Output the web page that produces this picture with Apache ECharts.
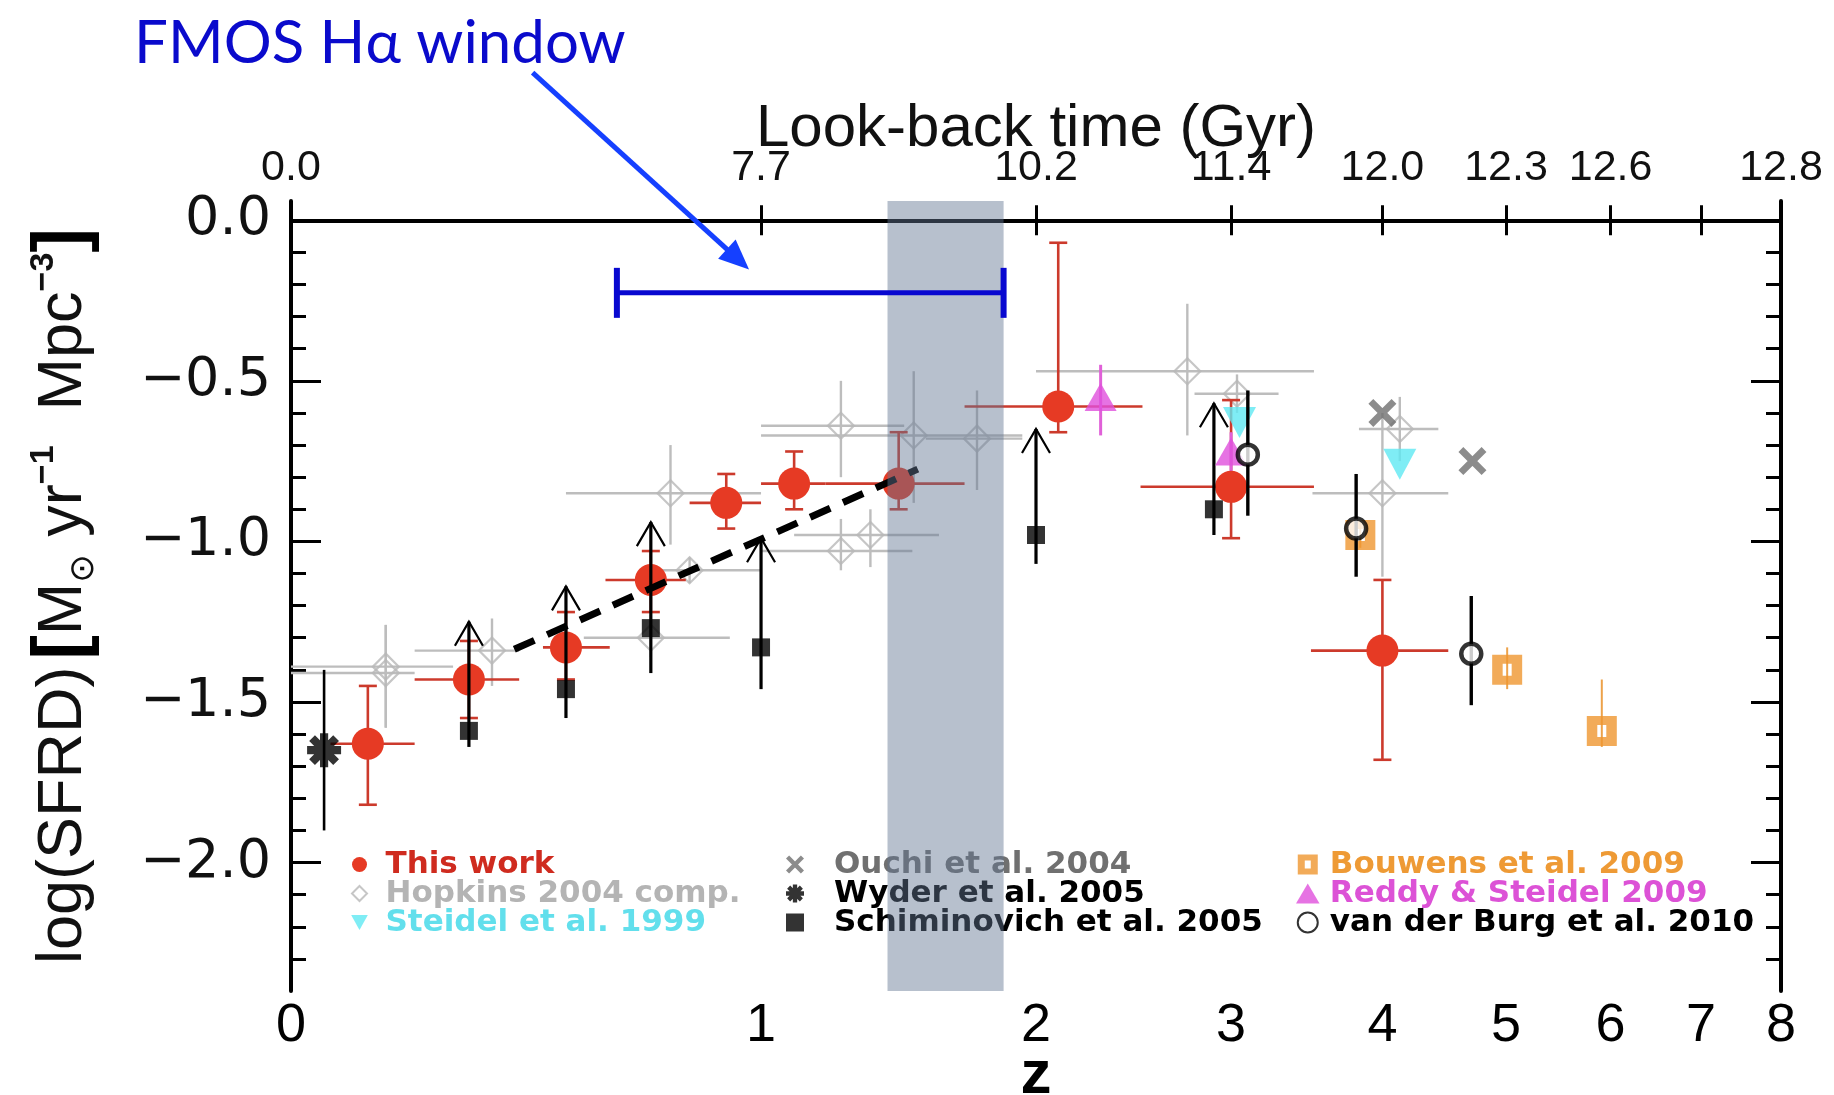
<!DOCTYPE html>
<html>
<head>
<meta charset="utf-8">
<script src="https://cdn.jsdelivr.net/npm/echarts@6/dist/echarts.min.js"></script>
<style>
  html, body { margin: 0; padding: 0; background: #ffffff; }
  #chart { width: 1834px; height: 1095px; }
</style>
</head>
<body>
<div id="chart"></div>
<script>
// ---------------- axes ----------------
const zTickValues = [1, 2, 3, 4, 5, 6, 7];
const zLabelValues = [0, 1, 2, 3, 4, 5, 6, 7, 8];
const lookbackZ = [0, 1, 2, 3, 4, 5, 6, 8];
const lookbackGyr = ['0.0', '7.7', '10.2', '11.4', '12.0', '12.3', '12.6', '12.8'];
const sfrdMajorTicks = [0, -0.5, -1.0, -1.5, -2.0];
const sfrdMinorTicks = [0, -0.1, -0.2, -0.3, -0.4, -0.5, -0.6, -0.7, -0.8, -0.9, -1.0,
  -1.1, -1.2, -1.3, -1.4, -1.5, -1.6, -1.7, -1.8, -1.9, -2.0, -2.1, -2.2, -2.3];

// ---------------- This work (H-alpha) ----------------
const thisWorkZ    = [0.12, 0.30, 0.50, 0.70, 0.90, 1.10, 1.45, 2.10, 3.00, 4.00];
const thisWorkSFRD = [-1.63, -1.43, -1.33, -1.12, -0.88, -0.82, -0.82, -0.58, -0.83, -1.34];
const thisWorkZLo  = [0.06, 0.20, 0.45, 0.59, 0.80, 1.00, 1.20, 1.70, 2.50, 3.50];
const thisWorkZHi  = [0.20, 0.40, 0.60, 0.79, 1.00, 1.20, 1.70, 2.51, 3.52, 4.51];
const thisWorkLo   = [-1.82, -1.55, -1.43, -1.22, -0.96, -0.90, -0.90, -0.66, -0.99, -1.68];
const thisWorkHi   = [-1.45, -1.31, -1.22, -1.03, -0.79, -0.72, -0.66, -0.07, -0.56, -1.12];

// ---------------- Hopkins 2004 compilation ----------------
const hopkinsZ    = [0.15, 0.15, 0.345, 0.70, 0.80, 0.75, 1.25, 1.505, 1.75, 1.25, 1.35, 2.75, 3.035, 4.13, 4.00];
const hopkinsSFRD = [-1.39, -1.41, -1.34, -1.30, -1.09, -0.85, -0.64, -0.67, -0.68, -1.03, -0.98, -0.47, -0.54, -0.65, -0.85];
const hopkinsZLo  = [0.00, 0.00, 0.20, 0.54, 0.70, 0.50, 1.00, 1.00, 1.55, 1.00, 1.10, 2.00, 2.79, 3.83, 3.51];
const hopkinsZHi  = [0.27, 0.20, 0.40, 0.91, 1.00, 1.00, 1.47, 1.94, 1.94, 1.50, 1.60, 3.52, 3.29, 4.43, 4.51];
const hopkinsLo   = [-1.58, -1.58, -1.45, -1.36, -1.13, -1.01, -0.80, -0.88, -0.84, -1.09, -1.08, -0.67, -0.60, -0.75, -1.11];
const hopkinsHi   = [-1.26, -1.26, -1.24, -1.23, -1.05, -0.70, -0.50, -0.47, -0.53, -0.93, -0.90, -0.26, -0.48, -0.55, -0.60];

// ---------------- Schiminovich et al. 2005 (lower limits) ----------------
const schZ    = [0.30, 0.50, 0.70, 1.00, 2.00, 2.90];
const schSFRD = [-1.59, -1.46, -1.27, -1.33, -0.98, -0.90];
const schLo   = [-1.64, -1.55, -1.41, -1.46, -1.07, -0.98];
const schTip  = [-1.25, -1.14, -0.94, -0.99, -0.65, -0.57];

// ---------------- other compilations ----------------
const wyderZ = [0.05], wyderSFRD = [-1.65], wyderLo = [-1.90], wyderHi = [-1.40];
const ouchiZ = [4.00, 4.71], ouchiSFRD = [-0.60, -0.75];
const steidelZ = [3.05, 4.13], steidelSFRD = [-0.63, -0.76];
const reddyZ = [2.30, 3.00], reddySFRD = [-0.55, -0.72], reddyLo = [-0.67, -0.78], reddyHi = [-0.45, -0.66];
const burgZ = [3.10, 3.81, 4.70], burgSFRD = [-0.73, -0.96, -1.35], burgLo = [-0.92, -1.11, -1.51], burgHi = [-0.53, -0.79, -1.17];
const bouwensZ = [3.84, 5.01, 5.91], bouwensSFRD = [-0.98, -1.40, -1.59], bouwensLo = [-1.02, -1.46, -1.64], bouwensHi = [-0.94, -1.33, -1.43];

// ---------------- power-law fit, FMOS window ----------------
const fitZ = [0.39, 1.52], fitSFRD = [-1.336, -0.775];
const bandZ = [1.41, 1.86];
const windowZ = [0.617, 1.86], windowSFRD = -0.226;
const arrowFrom = [0.428, 0.46], arrowTo = [0.965, -0.153];

// ---------------- helpers ----------------
const X = z => Math.log10(1 + z);
const X_MAX = X(8);
const Y_MIN = -2.4, Y_MAX = 0.06;
const SANS = "'Liberation Sans', Arial, sans-serif";
const WIDE = "'DejaVu Sans', 'Liberation Sans', sans-serif";

const keyOf = v => v.toFixed(5);
const zLabelMap = {}; zLabelValues.forEach(z => { zLabelMap[keyOf(X(z))] = String(z); });
const lbMap = {}; lookbackZ.forEach((z, i) => { lbMap[keyOf(X(z))] = lookbackGyr[i]; });

function barsPath(angles, halfLen, halfW) {
  let d = '';
  angles.forEach(a => {
    const r = a * Math.PI / 180, c = Math.cos(r), s = Math.sin(r);
    const pts = [[-halfLen, -halfW], [halfLen, -halfW], [halfLen, halfW], [-halfLen, halfW]]
      .map(([u, v]) => [u * c - v * s, u * s + v * c]);
    d += 'M' + pts.map(p => p[0].toFixed(2) + ',' + p[1].toFixed(2)).join('L') + 'Z';
  });
  return 'path://' + d;
}
const CROSS = barsPath([45, 135], 10, 2.1);
const STAR = barsPath([0, 45, 90, 135], 10, 2.4);
const OPEN_SQUARE = 'path://M0,0H20V20H0ZM7,6V14H13V6Z';
const DOWN_TRIANGLE = 'path://M0,0L20,0L10,18Z';
const UP_TRIANGLE = 'path://M10,0L20,17L0,17Z';
const DIAMOND = 'path://M10,0L20,10L10,20L0,10Z';
const SQUARE = 'path://M0,0H20V20H0Z';

const pts = (zs, ys) => zs.map((z, i) => [X(z), ys[i]]);

// error-bar renderer: data item = [x, y, xlo, xhi, ylo, yhi]
function errorBars(color, width, cap) {
  return function (params, api) {
    const x = api.value(0), y = api.value(1);
    const xlo = api.value(2), xhi = api.value(3), ylo = api.value(4), yhi = api.value(5);
    const st = { stroke: color, lineWidth: width, fill: null };
    const kids = [];
    if (isFinite(xlo) && isFinite(xhi)) {
      const a = api.coord([xlo, y]), b = api.coord([xhi, y]);
      kids.push({ type: 'line', shape: { x1: a[0], y1: a[1], x2: b[0], y2: b[1] }, style: st });
    }
    if (isFinite(ylo) && isFinite(yhi)) {
      const a = api.coord([x, ylo]), b = api.coord([x, yhi]);
      kids.push({ type: 'line', shape: { x1: a[0], y1: a[1], x2: b[0], y2: b[1] }, style: st });
      if (cap) {
        kids.push({ type: 'line', shape: { x1: a[0] - cap, y1: a[1], x2: a[0] + cap, y2: a[1] }, style: st });
        kids.push({ type: 'line', shape: { x1: b[0] - cap, y1: b[1], x2: b[0] + cap, y2: b[1] }, style: st });
      }
    }
    return { type: 'group', children: kids };
  };
}

// lower-limit arrows: data item = [x, y, ylo, ytip]
function limitArrows(params, api) {
  const x = api.value(0);
  const lo = api.coord([x, api.value(2)]);
  const tip = api.coord([x, api.value(3)]);
  const st = { stroke: '#000', lineWidth: 3.2, fill: null };
  const hs = { stroke: '#000', lineWidth: 2.2, fill: null };
  return {
    type: 'group', children: [
      { type: 'line', shape: { x1: lo[0], y1: lo[1], x2: tip[0], y2: tip[1] }, style: st },
      { type: 'polyline', shape: { points: [[tip[0] - 14, tip[1] + 24], [tip[0], tip[1]], [tip[0] + 14, tip[1] + 24]] }, style: hs }
    ]
  };
}

const errSeries = (name, zs, ys, zlo, zhi, ylo, yhi, color, width, cap, z) => ({
  type: 'custom', name, z, clip: true, silent: true,
  renderItem: errorBars(color, width, cap),
  encode: { x: 0, y: 1 },
  data: zs.map((zz, i) => [X(zz), ys[i],
    zlo ? X(zlo[i]) : NaN, zhi ? X(zhi[i]) : NaN,
    ylo ? ylo[i] : NaN, yhi ? yhi[i] : NaN])
});

const chart = echarts.init(document.getElementById('chart'), null, { renderer: 'canvas' });

const yBase = { type: 'value', min: Y_MIN, max: Y_MAX, splitLine: { show: false } };
const xBase = { type: 'value', min: 0, max: X_MAX, splitLine: { show: false } };
const axisLineStyle = { show: true, lineStyle: { color: '#000', width: 4 } };
const legendFont = { fontFamily: WIDE, fontSize: 31, fontWeight: 'bold', lineHeight: 25 };

const option = {
  animation: false,
  backgroundColor: '#ffffff',
  grid: { left: 291, right: 53, top: 201, bottom: 104, containLabel: false, outerBoundsMode: 'none' },
  xAxis: [
    Object.assign({}, xBase, {
      position: 'bottom',
      axisLine: axisLineStyle,
      axisTick: { show: true, inside: true, length: 15, lineStyle: { color: '#000', width: 3 },
        customValues: zTickValues.map(X) },
      axisLabel: { show: true, customValues: zLabelValues.map(X), margin: 8,
        formatter: v => zLabelMap[keyOf(v)] || '',
        color: '#000', fontFamily: SANS, fontSize: 54 },
      name: 'z', nameLocation: 'middle', nameGap: 54, nameMoveOverlap: false,
      nameTextStyle: { fontFamily: SANS, fontSize: 62, fontWeight: 'bold', color: '#000' }
    }),
    Object.assign({}, xBase, {
      position: 'top',
      axisLine: axisLineStyle,
      axisTick: { show: true, inside: true, length: 15, lineStyle: { color: '#000', width: 3 },
        customValues: zTickValues.map(X) },
      axisLabel: { show: true, customValues: lookbackZ.map(X), margin: 11,
        formatter: v => lbMap[keyOf(v)] || '',
        color: '#111', fontFamily: SANS, fontSize: 43 },
      name: 'Look-back time (Gyr)', nameLocation: 'middle', nameGap: 42, nameMoveOverlap: false,
      nameTextStyle: { fontFamily: SANS, fontSize: 60, color: '#111' }
    })
  ],
  yAxis: [
    Object.assign({}, yBase, {
      position: 'left',
      axisLine: axisLineStyle,
      axisTick: { show: true, inside: true, length: 30, lineStyle: { color: '#000', width: 3 },
        customValues: sfrdMajorTicks },
      axisLabel: { show: true, customValues: sfrdMajorTicks, margin: 20,
        formatter: v => (Math.abs(v) < 1e-9 ? '0.0' : '\u2212' + Math.abs(v).toFixed(1)),
        color: '#111', fontFamily: WIDE, fontSize: 54 },
      name: '{a|log(SFRD)}  {b|[}{a|M}{s|\u2299}{a| yr}{p|\u22121}{a|  Mpc}{p|\u22123}{b|]}',
      nameLocation: 'middle', nameGap: 190, nameRotate: 90, nameMoveOverlap: false,
      nameTextStyle: {
        color: '#111',
        rich: {
          a: { fontFamily: SANS, fontSize: 63, color: '#111' },
          b: { fontFamily: SANS, fontSize: 74, fontWeight: 'bold', color: '#000' },
          s: { fontFamily: WIDE, fontSize: 34, color: '#111', verticalAlign: 'bottom' },
          p: { fontFamily: SANS, fontSize: 34, fontWeight: 'bold', color: '#111', verticalAlign: 'top' }
        }
      }
    }),
    Object.assign({}, yBase, {
      position: 'left',
      axisLine: { show: false },
      axisTick: { show: true, inside: true, length: 15, lineStyle: { color: '#000', width: 3 },
        customValues: sfrdMinorTicks },
      axisLabel: { show: false }
    }),
    Object.assign({}, yBase, {
      position: 'right',
      axisLine: axisLineStyle,
      axisTick: { show: true, inside: true, length: 30, lineStyle: { color: '#000', width: 3 },
        customValues: sfrdMajorTicks },
      axisLabel: { show: false }
    }),
    Object.assign({}, yBase, {
      position: 'right',
      axisLine: { show: false },
      axisTick: { show: true, inside: true, length: 15, lineStyle: { color: '#000', width: 3 },
        customValues: sfrdMinorTicks },
      axisLabel: { show: false }
    })
  ],
  legend: [
    {
      left: 351, top: 849, orient: 'vertical', padding: 0, itemGap: -2,
      itemWidth: 42, itemHeight: 15, selectedMode: false, symbolKeepAspect: true,
      textStyle: legendFont,
      data: [
        { name: 'This work', textStyle: { color: '#cf2b1f' } },
        { name: 'Hopkins 2004 comp.', textStyle: { color: '#b4b4b4' } },
        { name: 'Steidel et al. 1999', textStyle: { color: '#62dfec' } }
      ]
    },
    {
      left: 786, top: 849, orient: 'vertical', padding: 0, itemGap: -2,
      itemWidth: 68, itemHeight: 18, selectedMode: false, symbolKeepAspect: true,
      textStyle: legendFont,
      data: [
        { name: 'Ouchi et al. 2004', textStyle: { color: '#707070' } },
        { name: 'Wyder et al. 2005', textStyle: { color: '#000000' } },
        { name: 'Schiminovich et al. 2005', textStyle: { color: '#000000' } }
      ]
    },
    {
      left: 1296, top: 849, orient: 'vertical', padding: 0, itemGap: -2,
      itemWidth: 34, itemHeight: 20, selectedMode: false, symbolKeepAspect: true,
      textStyle: legendFont,
      data: [
        { name: 'Bouwens et al. 2009', textStyle: { color: '#ee9a35' } },
        { name: 'Reddy & Steidel 2009', textStyle: { color: '#dc52d6' } },
        { name: 'van der Burg et al. 2010', textStyle: { color: '#000000' } }
      ]
    }
  ],
  graphic: [
    {
      type: 'text', left: 134, top: 14, z: 20,
      style: { text: 'FMOS H\u03b1 window', fill: '#0a0acc', font: "60px Lato, 'Open Sans', sans-serif" }
    }
  ],
  series: [
    // Hopkins compilation: grey crosses with open diamonds
    errSeries('hopkins-err', hopkinsZ, hopkinsSFRD, hopkinsZLo, hopkinsZHi, hopkinsLo, hopkinsHi, '#bdbdbd', 2.4, 0, 2),
    {
      type: 'scatter', name: 'Hopkins 2004 comp.', z: 2, symbol: DIAMOND, symbolSize: 26,
      itemStyle: { color: 'rgba(255,255,255,0)', borderColor: '#b8b8b8', borderWidth: 2.2 },
      data: pts(hopkinsZ, hopkinsSFRD)
    },
    // This work
    errSeries('this-work-err', thisWorkZ, thisWorkSFRD, thisWorkZLo, thisWorkZHi, thisWorkLo, thisWorkHi, '#cc3a2c', 2.6, 9, 3),
    {
      type: 'scatter', name: 'This work', z: 3, symbol: 'circle', symbolSize: 32,
      itemStyle: { color: '#e63a24', opacity: 1 },
      data: pts(thisWorkZ, thisWorkSFRD)
    },
    // Schiminovich lower limits
    {
      type: 'custom', name: 'sch-limits', z: 4, clip: true, silent: true,
      renderItem: limitArrows, encode: { x: 0, y: 1 },
      data: schZ.map((z, i) => [X(z), schSFRD[i], schLo[i], schTip[i]])
    },
    {
      type: 'scatter', name: 'Schiminovich et al. 2005', z: 4, symbol: SQUARE, symbolSize: 18,
      itemStyle: { color: '#000' }, data: pts(schZ, schSFRD)
    },
    // Wyder
    errSeries('wyder-err', wyderZ, wyderSFRD, null, null, wyderLo, wyderHi, '#000', 2.6, 0, 4),
    {
      type: 'scatter', name: 'Wyder et al. 2005', z: 4, symbol: STAR, symbolSize: 34,
      itemStyle: { color: '#000' }, data: pts(wyderZ, wyderSFRD)
    },
    // power-law fit
    {
      type: 'line', name: 'fit', z: 5, symbol: 'none', silent: true,
      lineStyle: { color: '#000', width: 7, type: [22, 14], cap: 'butt' },
      data: pts(fitZ, fitSFRD)
    },
    // Bouwens
    errSeries('bouwens-err', bouwensZ, bouwensSFRD, null, null, bouwensLo, bouwensHi, '#eda24a', 2, 0, 5),
    {
      type: 'scatter', name: 'Bouwens et al. 2009', z: 5, symbol: OPEN_SQUARE, symbolSize: 30,
      itemStyle: { color: '#ef962f' }, data: pts(bouwensZ, bouwensSFRD)
    },
    // Ouchi
    {
      type: 'scatter', name: 'Ouchi et al. 2004', z: 5, symbol: CROSS, symbolSize: 28,
      itemStyle: { color: '#6f6f6f' }, data: pts(ouchiZ, ouchiSFRD)
    },
    // Reddy & Steidel
    errSeries('reddy-err', reddyZ, reddySFRD, null, null, reddyLo, reddyHi, '#e060d8', 3, 0, 6),
    {
      type: 'scatter', name: 'Reddy & Steidel 2009', z: 6, symbol: UP_TRIANGLE, symbolSize: [32, 28],
      itemStyle: { color: '#e050dc' }, data: pts(reddyZ, reddySFRD)
    },
    // Steidel
    {
      type: 'scatter', name: 'Steidel et al. 1999', z: 6, symbol: DOWN_TRIANGLE,
      symbolSize: [33, 31], itemStyle: { color: '#5fe8f2' }, data: pts(steidelZ, steidelSFRD)
    },
    // van der Burg
    errSeries('burg-err', burgZ, burgSFRD, null, null, burgLo, burgHi, '#000', 3.4, 0, 7),
    {
      type: 'scatter', name: 'van der Burg et al. 2010', z: 7, symbol: 'circle', symbolSize: 20,
      itemStyle: { color: '#ffffff', borderColor: '#000', borderWidth: 4.5 },
      data: pts(burgZ, burgSFRD)
    },
    // FMOS H-alpha redshift band
    {
      type: 'custom', name: 'band', z: 10, silent: true, clip: true,
      encode: { x: [0, 1], y: 2 },
      data: [[X(bandZ[0]), X(bandZ[1]), -1]],
      renderItem: function (params, api) {
        const a = api.coord([api.value(0), 0]);
        const b = api.coord([api.value(1), 0]);
        const cs = params.coordSys;
        return {
          type: 'rect',
          shape: { x: a[0], y: cs.y, width: b[0] - a[0], height: cs.height },
          style: { fill: 'rgba(98,118,145,0.46)' }
        };
      }
    },
    // FMOS window bar
    {
      type: 'custom', name: 'window', z: 12, silent: true, clip: false,
      encode: { x: [0, 1], y: 2 },
      data: [[X(windowZ[0]), X(windowZ[1]), windowSFRD]],
      renderItem: function (params, api) {
        const a = api.coord([api.value(0), api.value(2)]);
        const b = api.coord([api.value(1), api.value(2)]);
        const st = { stroke: '#0808d0', lineWidth: 5, fill: null };
        return {
          type: 'group', children: [
            { type: 'line', shape: { x1: a[0], y1: a[1], x2: b[0], y2: b[1] }, style: st },
            { type: 'line', shape: { x1: a[0], y1: a[1] - 25, x2: a[0], y2: a[1] + 25 }, style: { stroke: '#0808d0', lineWidth: 6 } },
            { type: 'line', shape: { x1: b[0], y1: b[1] - 25, x2: b[0], y2: b[1] + 25 }, style: { stroke: '#0808d0', lineWidth: 6 } }
          ]
        };
      }
    },
    // pointer from the caption to the window
    {
      type: 'custom', name: 'pointer', z: 12, silent: true, clip: false,
      encode: { x: [0, 2], y: [1, 3] },
      data: [[X(arrowFrom[0]), arrowFrom[1], X(arrowTo[0]), arrowTo[1]]],
      renderItem: function (params, api) {
        const p0 = api.coord([api.value(0), api.value(1)]);
        const p1 = api.coord([api.value(2), api.value(3)]);
        const dx = p1[0] - p0[0], dy = p1[1] - p0[1];
        const len = Math.sqrt(dx * dx + dy * dy);
        const ux = dx / len, uy = dy / len, nx = -uy, ny = ux;
        const L = 30, W = 13;
        const bx = p1[0] - ux * L, by = p1[1] - uy * L;
        return {
          type: 'group', children: [
            { type: 'line', shape: { x1: p0[0], y1: p0[1], x2: bx + ux * 4, y2: by + uy * 4 },
              style: { stroke: '#1540ff', lineWidth: 5 } },
            { type: 'polygon', shape: { points: [[p1[0], p1[1]], [bx + nx * W, by + ny * W], [bx - nx * W, by - ny * W]] },
              style: { fill: '#1540ff' } }
          ]
        };
      }
    }
  ]
};

chart.setOption(option);
</script>
</body>
</html>
